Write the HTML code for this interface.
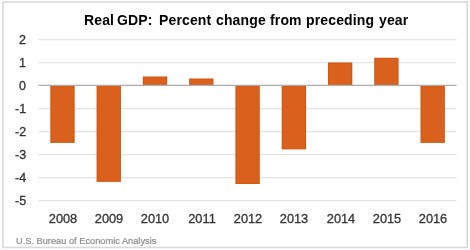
<!DOCTYPE html>
<html><head><meta charset="utf-8">
<style>
html,body{margin:0;padding:0;background:#fff;}
body{width:470px;height:250px;position:relative;overflow:hidden;font-family:"Liberation Sans",sans-serif;}
svg{position:absolute;left:0;top:0;}
.t{position:absolute;white-space:nowrap;line-height:1;}
.t,.yl,.xl{will-change:transform;}
.tw{top:13px;font-size:14px;font-weight:bold;color:#000;letter-spacing:0.14px;}
.yl{position:absolute;right:444px;font-size:12.5px;color:#333;line-height:1;-webkit-text-stroke:0.3px #333;}
.xl{position:absolute;font-size:12.8px;color:#333;line-height:1;width:60px;text-align:center;-webkit-text-stroke:0.3px #333;}
#foot{left:16.3px;top:236.5px;font-size:9.25px;color:#8c8c8c;-webkit-text-stroke:0.2px #8c8c8c;}
</style></head><body>
<svg width="470" height="250" viewBox="0 0 470 250">
<rect x="2.9" y="2.05" width="464.3" height="245.4" fill="#fff" stroke="#d9d9d9" stroke-width="1.6"/>
<g stroke="#e4e4e4" stroke-width="1.4">
<line x1="38.5" x2="456.5" y1="39.65" y2="39.65"/>
<line x1="38.5" x2="456.5" y1="62.65" y2="62.65"/>
<line x1="38.5" x2="456.5" y1="108.65" y2="108.65"/>
<line x1="38.5" x2="456.5" y1="131.65" y2="131.65"/>
<line x1="38.5" x2="456.5" y1="154.65" y2="154.65"/>
<line x1="38.5" x2="456.5" y1="177.65" y2="177.65"/>
<line x1="38.5" x2="456.5" y1="200.65" y2="200.65"/>
</g>
<g fill="#d3550f">
<rect x="50.30" y="85.50" width="24.35" height="57.40"/>
<rect x="96.57" y="85.50" width="24.35" height="96.35"/>
<rect x="142.85" y="76.50" width="24.35" height="9.00"/>
<rect x="189.12" y="78.50" width="24.35" height="7.00"/>
<rect x="235.40" y="85.50" width="24.35" height="98.46"/>
<rect x="281.68" y="85.50" width="24.35" height="63.86"/>
<rect x="327.95" y="62.50" width="24.35" height="23.00"/>
<rect x="374.23" y="57.76" width="24.35" height="27.74"/>
<rect x="420.50" y="85.50" width="24.35" height="57.40"/>
</g>
<g fill="#d9611d">
<rect x="51.30" y="86.50" width="22.35" height="55.40"/>
<rect x="97.57" y="86.50" width="22.35" height="94.35"/>
<rect x="143.85" y="77.50" width="22.35" height="7.00"/>
<rect x="190.12" y="79.50" width="22.35" height="5.00"/>
<rect x="236.40" y="86.50" width="22.35" height="96.46"/>
<rect x="282.68" y="86.50" width="22.35" height="61.86"/>
<rect x="328.95" y="63.50" width="22.35" height="21.00"/>
<rect x="375.23" y="58.76" width="22.35" height="25.74"/>
<rect x="421.50" y="86.50" width="22.35" height="55.40"/>
</g>
<line x1="38.5" x2="456.5" y1="85.4" y2="85.4" stroke="#acacac" stroke-width="1.15"/>
</svg>
<div class="t tw" style="left:83.8px">Real</div><div class="t tw" style="left:117.4px">GDP:</div><div class="t tw" style="left:158.8px">Percent</div><div class="t tw" style="left:216.0px">change</div><div class="t tw" style="left:269.8px">from</div><div class="t tw" style="left:306.2px">preceding</div><div class="t tw" style="left:378.9px">year</div>
<div class="yl" style="top:34px">2</div>
<div class="yl" style="top:57px">1</div>
<div class="yl" style="top:80px">0</div>
<div class="yl" style="top:103px">-1</div>
<div class="yl" style="top:126px">-2</div>
<div class="yl" style="top:149px">-3</div>
<div class="yl" style="top:172px">-4</div>
<div class="yl" style="top:195px">-5</div>
<div class="xl" style="left:32.75px;top:212.8px">2008</div>
<div class="xl" style="left:79.08px;top:212.8px">2009</div>
<div class="xl" style="left:125.41px;top:212.8px">2010</div>
<div class="xl" style="left:171.74px;top:212.8px">2011</div>
<div class="xl" style="left:218.07px;top:212.8px">2012</div>
<div class="xl" style="left:264.40px;top:212.8px">2013</div>
<div class="xl" style="left:310.73px;top:212.8px">2014</div>
<div class="xl" style="left:357.06px;top:212.8px">2015</div>
<div class="xl" style="left:403.39px;top:212.8px">2016</div>
<div class="t" id="foot">U.S. Bureau of Economic Analysis</div>
</body></html>
